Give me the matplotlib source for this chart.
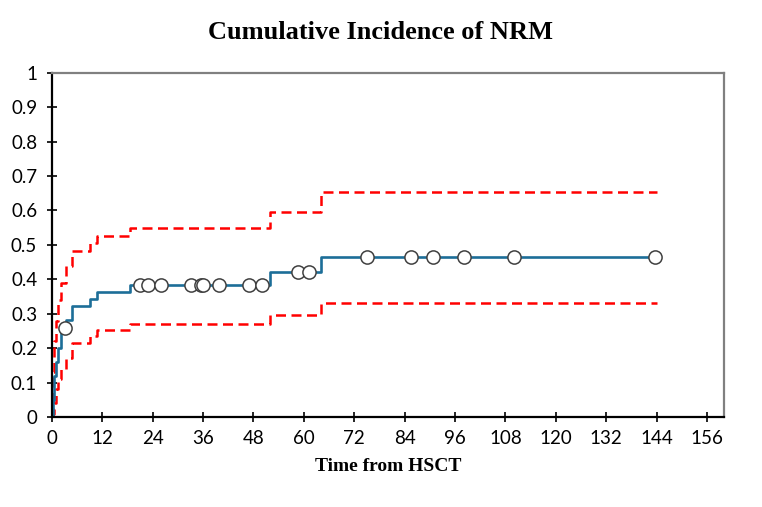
import matplotlib
matplotlib.use("Agg")
import matplotlib.pyplot as plt

# step times (months) and cumulative incidence with 95% CI
step_t = [0, 0.3, 0.5, 1.0, 1.5, 2.2, 3.4, 4.9, 9.0, 10.7, 18.7, 52, 64, 144]
cif = [0, 0.05, 0.12, 0.16, 0.20, 0.243, 0.282, 0.323, 0.343, 0.362, 0.384, 0.42, 0.466, 0.466]
upper = [0, 0.13, 0.22, 0.28, 0.34, 0.39, 0.44, 0.483, 0.505, 0.527, 0.548, 0.595, 0.655, 0.655]
lower = [0, 0.01, 0.04, 0.08, 0.11, 0.14, 0.17, 0.214, 0.236, 0.253, 0.27, 0.297, 0.332, 0.332]

# censored observations
cens_t = [3.1, 21.1, 22.9, 25.9, 33.2, 35.6, 36.1, 39.9, 46.9, 50.0,
          58.6, 61.2, 75.0, 85.4, 90.7, 98.2, 110.1, 143.6]
cens_y = [0.26, 0.384, 0.384, 0.384, 0.384, 0.384, 0.384, 0.384, 0.384, 0.384,
          0.42, 0.42, 0.466, 0.466, 0.466, 0.466, 0.466, 0.466]

xticks = list(range(0, 157, 12))
yticks = [0, 0.1, 0.2, 0.3, 0.4, 0.5, 0.6, 0.7, 0.8, 0.9, 1]
ylabels = ["0", "0.1", "0.2", "0.3", "0.4", "0.5", "0.6", "0.7", "0.8", "0.9", "1"]

fig = plt.figure(figsize=(7.62, 5.07), dpi=100)
ax = fig.add_axes([0.068, 0.1775, 0.882, 0.679])

ax.step(step_t, upper, where="post", color="#ff0000", lw=1.8, ls=(0, (4, 2.2)))
ax.step(step_t, lower, where="post", color="#ff0000", lw=1.8, ls=(0, (4, 2.2)))
ax.step(step_t, cif, where="post", color="#1c6e98", lw=1.9)
ax.plot(cens_t, cens_y, "o", ms=9.5, mfc="white", mec="#404040", mew=1.1, zorder=5)

ax.set_xlim(0, 160)
ax.set_ylim(0, 1)
ax.set_xticks(xticks)
ax.set_yticks(yticks)
ax.set_yticklabels(ylabels)
ax.tick_params(direction="inout", length=7, width=1.2, labelsize=13.5)
ax.tick_params(axis="x", pad=6)
ax.tick_params(axis="y", pad=7)
for lab in ax.get_xticklabels() + ax.get_yticklabels():
    lab.set_family(["Lato", "DejaVu Sans"])

for s in ["left", "bottom"]:
    ax.spines[s].set_color("black")
    ax.spines[s].set_linewidth(1.6)
for s in ["top", "right"]:
    ax.spines[s].set_color("#808080")
    ax.spines[s].set_linewidth(1.6)

ax.set_xlabel("Time from HSCT", family="Liberation Serif", fontweight="bold",
              fontsize=14, labelpad=8)
fig.text(0.5, 0.935, "Cumulative Incidence of NRM", ha="center", va="center",
         family="Liberation Serif", fontweight="bold", fontsize=19)

fig.savefig("out.png", dpi=100)
